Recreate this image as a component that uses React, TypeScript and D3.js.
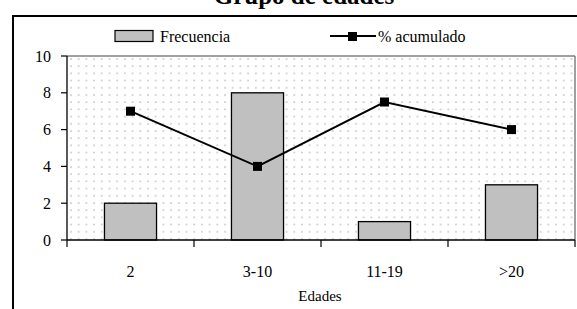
import React from "react";
import * as d3 from "d3";

const categories = ["2", "3-10", "11-19", ">20"];
const frecuencia = [2, 8, 1, 3];
const acumulado = [7, 4, 7.5, 6];
const yTicks = [0, 2, 4, 6, 8, 10];

const FONT = "Liberation Serif, Times New Roman, DejaVu Serif, serif";

export default function App() {
  const W = 577, H = 309;
  const left = 67, right = 575, top = 56, bottom = 240;
  const x = d3.scaleBand<string>().domain(categories).range([left, right]).paddingInner(0.59).paddingOuter(0.295);
  const xb = d3.scaleBand<string>().domain(categories).range([left, right]);
  const y = d3.scaleLinear().domain([0, 10]).range([bottom, top]);
  const line = d3.line<number>().x((_, i) => xb(categories[i])! + xb.bandwidth() / 2).y(d => y(d));
  const bounds = categories.map(c => xb(c)!).concat([right]);
  return (
    <svg width={W} height={H} style={{ position: "absolute", left: 0, top: 0 }}>
      <defs>
        <pattern id="dots" x={left + 3} y={top + 2} width={7.7} height={7.2} patternUnits="userSpaceOnUse">
          <circle cx={1} cy={1} r={0.85} fill="#b4b4b4" />
        </pattern>
      </defs>
      <rect x={0} y={0} width={W} height={H} fill="#fff" />
      <text x={304} y={4} textAnchor="middle" fontSize={25} fontWeight="bold" fontFamily={FONT}>Grupo de edades</text>
      <rect x={13} y={16} width={W + 10} height={H + 10} fill="none" stroke="#000" strokeWidth={2} />
      {/* legend */}
      <rect x={115} y={30.5} width={38} height={11} fill="#c0c0c0" stroke="#000" strokeWidth={1.2} />
      <text x={160} y={42} fontSize={16} fontFamily={FONT}>Frecuencia</text>
      <line x1={330} x2={376} y1={36} y2={36} stroke="#000" strokeWidth={2} />
      <rect x={348} y={32} width={9} height={9} fill="#000" />
      <text x={378} y={42} fontSize={16} fontFamily={FONT}>% acumulado</text>
      {/* plot area */}
      <rect x={left} y={top} width={right - left} height={bottom - top} fill="url(#dots)" />
      <line x1={left} x2={right} y1={top} y2={top} stroke="#808080" strokeWidth={1.5} />
      <line x1={right} x2={right} y1={top} y2={bottom} stroke="#808080" strokeWidth={1.5} />
      {categories.map((c, i) => (
        <rect key={c} x={x(c)} y={y(frecuencia[i])} width={x.bandwidth()} height={y(0) - y(frecuencia[i])}
          fill="#c0c0c0" stroke="#000" strokeWidth={1.3} />
      ))}
      <path d={line(acumulado)!} fill="none" stroke="#000" strokeWidth={2} />
      {acumulado.map((v, i) => (
        <rect key={i} x={xb(categories[i])! + xb.bandwidth() / 2 - 4.5} y={y(v) - 4.5} width={9} height={9} fill="#000" />
      ))}
      {/* axes */}
      <line x1={left} x2={left} y1={top} y2={bottom} stroke="#000" strokeWidth={1.3} />
      <line x1={left} x2={right} y1={bottom} y2={bottom} stroke="#000" strokeWidth={1.3} />
      {yTicks.map(t => (
        <g key={t}>
          <line x1={left - 6} x2={left} y1={y(t)} y2={y(t)} stroke="#000" strokeWidth={1.2} />
          <text x={51} y={y(t) + 5.5} textAnchor="end" fontSize={16} fontFamily={FONT}>{t}</text>
        </g>
      ))}
      {bounds.map((b, i) => (
        <line key={i} x1={b} x2={b} y1={bottom} y2={bottom + 7} stroke="#000" strokeWidth={1.2} />
      ))}
      {categories.map(c => (
        <text key={c} x={xb(c)! + xb.bandwidth() / 2} y={277} textAnchor="middle" fontSize={16} fontFamily={FONT}>{c}</text>
      ))}
      <text x={320} y={301} textAnchor="middle" fontSize={15} fontFamily={FONT}>Edades</text>
    </svg>
  );
}
